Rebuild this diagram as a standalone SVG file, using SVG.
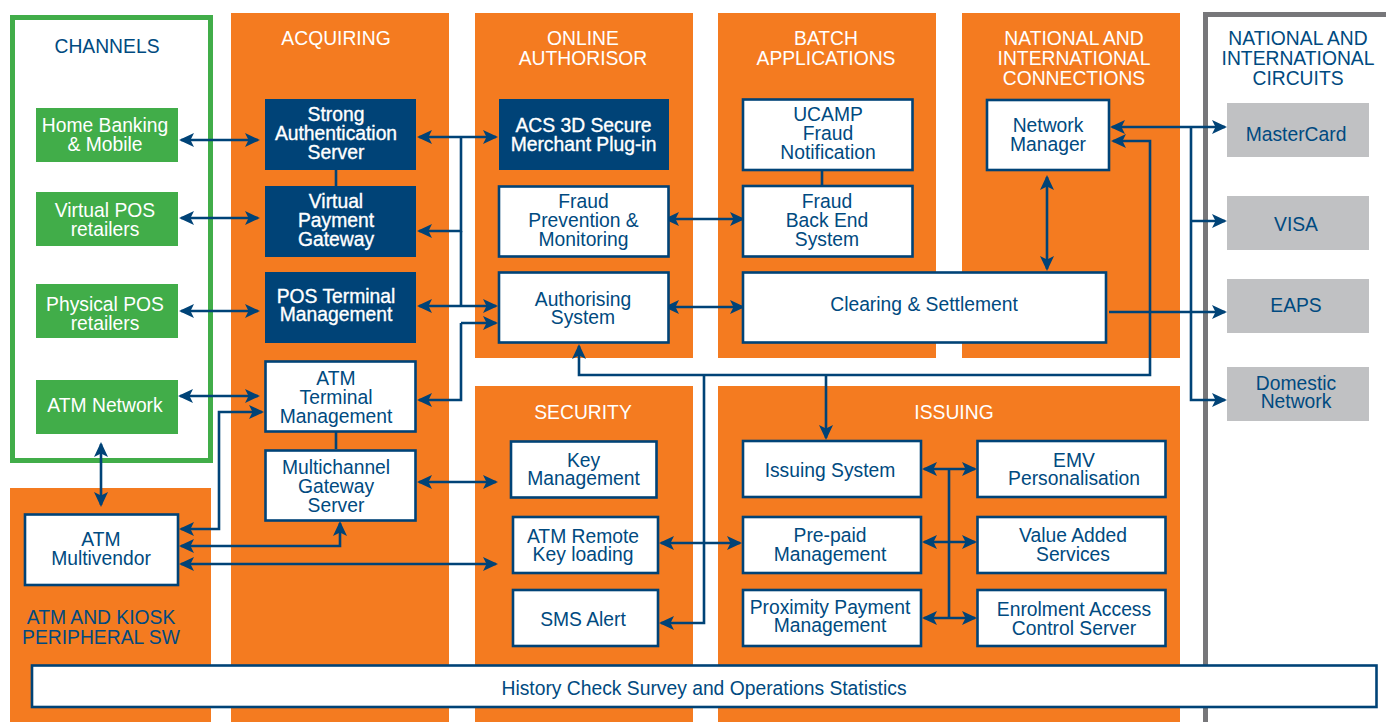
<svg xmlns="http://www.w3.org/2000/svg" width="1386" height="722" viewBox="0 0 1386 722">
<style>
text{font-family:"Liberation Sans",Arial,sans-serif;font-size:19.3px;text-anchor:middle;fill:#004a80}
.pan{fill:#f47b20}
.w{fill:#fff}
.db{fill:#004377}
.dbt{fill:#fff;stroke:#fff;stroke-width:.35px}
.wb{fill:#fff;stroke:#004377;stroke-width:2.6}
.gr{fill:#41ad49}
.gy{fill:#c0c1c3}
.c{fill:none;stroke:#004377;stroke-width:2.6}
.a{marker-end:url(#ah)}
.b{marker-start:url(#ah);marker-end:url(#ah)}
</style>
<defs>
<marker id="ah" markerUnits="userSpaceOnUse" markerWidth="18" markerHeight="16" refX="13" refY="7" orient="auto-start-reverse" overflow="visible"><path d="M15 7L0 0L3.500 7L0 14Z" fill="#004377"/></marker>
</defs>
<g id="panels">
<rect class="pan" x="231" y="13" width="218" height="709"/>
<rect class="pan" x="475" y="13" width="218" height="345"/>
<rect class="pan" x="718" y="13" width="218" height="345"/>
<rect class="pan" x="962" y="13" width="218" height="345"/>
<rect class="pan" x="475" y="386" width="218" height="336"/>
<rect class="pan" x="718" y="386" width="462" height="336"/>
<rect class="pan" x="10" y="488" width="201" height="234"/>
<rect x="12.500" y="17.500" width="198" height="443" fill="none" stroke="#41ad49" stroke-width="5"/>
<path d="M1205.500 722V14.500H1386" fill="none" stroke="#77777a" stroke-width="5"/>
<text x="107" y="53">CHANNELS</text>
<text class="w" x="336" y="45">ACQUIRING</text>
<text class="w" x="583" y="45">ONLINE</text><text class="w" x="583" y="65">AUTHORISOR</text>
<text class="w" x="826" y="45">BATCH</text><text class="w" x="826" y="65">APPLICATIONS</text>
<text class="w" x="1074" y="45">NATIONAL AND</text><text class="w" x="1074" y="65">INTERNATIONAL</text><text class="w" x="1074" y="85">CONNECTIONS</text>
<text x="1298" y="45">NATIONAL AND</text><text x="1298" y="65">INTERNATIONAL</text><text x="1298" y="85">CIRCUITS</text>
<text class="w" x="583" y="419">SECURITY</text>
<text class="w" x="954" y="419">ISSUING</text>
<text x="101" y="624">ATM AND KIOSK</text><text x="101" y="644">PERIPHERAL SW</text>
</g>
<g id="connectors">
<path class="c b" d="M181 140H258"/>
<path class="c b" d="M181 218H258"/>
<path class="c b" d="M181 311H258"/>
<path class="c b" d="M180 396H258"/>
<path class="c b" d="M101 444V505"/>
<path class="c" d="M336 170V186M336 432V449M822 171V185"/>
<path class="c b" d="M181 529H219V412H262"/>
<path class="c b" d="M181 546H340V523"/>
<path class="c b" d="M181 564H496"/>
<path class="c b" d="M419 482H496"/>
<path class="c b" d="M419 137H496"/>
<path class="c a" d="M461 137V231H419"/>
<path class="c b" d="M419 306H496"/>
<path class="c" d="M461 231V306"/>
<path class="c a" d="M461 323V400H419"/>
<path class="c a" d="M461 323H496"/>
<path class="c b" d="M666 219H743"/>
<path class="c b" d="M666 307H743"/>
<path class="c b" d="M579 346V375H1150V141H1113"/>
<path class="c a" d="M704 375V623H661"/>
<path class="c a" d="M826 375V438"/>
<path class="c b" d="M661 543H740"/>
<path class="c b" d="M924 469H975"/>
<path class="c b" d="M924 542H975"/>
<path class="c b" d="M924 618H975"/>
<path class="c" d="M949 469V618"/>
<path class="c b" d="M1112 127H1225"/>
<path class="c a" d="M1191 127V400H1225"/>
<path class="c a" d="M1191 221H1225"/>
<path class="c a" d="M1109 312H1225"/>
<path class="c b" d="M1047 177V269"/>
</g>
<g id="home-banking"><rect class="gr" x="36" y="108" width="142" height="54"/><text class="w" x="105" y="132">Home Banking</text><text class="w" x="105" y="151">&amp; Mobile</text></g>
<g id="virtual-pos"><rect class="gr" x="36" y="192" width="142" height="54"/><text class="w" x="105" y="217">Virtual POS</text><text class="w" x="105" y="236">retailers</text></g>
<g id="physical-pos"><rect class="gr" x="36" y="284" width="142" height="54"/><text class="w" x="105" y="311">Physical POS</text><text class="w" x="105" y="330">retailers</text></g>
<g id="atm-network"><rect class="gr" x="36" y="380" width="142" height="54"/><text class="w" x="105" y="412">ATM Network</text></g>
<g id="strong-auth"><rect class="db" x="265" y="99" width="151" height="71"/><text class="dbt" x="336" y="121">Strong</text><text class="dbt" x="336" y="140">Authentication</text><text class="dbt" x="336" y="159">Server</text></g>
<g id="virtual-gateway"><rect class="db" x="265" y="186" width="151" height="71"/><text class="dbt" x="336" y="208">Virtual</text><text class="dbt" x="336" y="227">Payment</text><text class="dbt" x="336" y="246">Gateway</text></g>
<g id="pos-terminal"><rect class="db" x="265" y="272" width="151" height="71"/><text class="dbt" x="336" y="303">POS Terminal</text><text class="dbt" x="336" y="321">Management</text></g>
<g id="atm-terminal"><rect class="wb" x="265.500" y="361.500" width="150" height="70"/><text x="336" y="385">ATM</text><text x="336" y="404">Terminal</text><text x="336" y="423">Management</text></g>
<g id="multichannel"><rect class="wb" x="265.500" y="450.500" width="150" height="70"/><text x="336" y="474">Multichannel</text><text x="336" y="493">Gateway</text><text x="336" y="512">Server</text></g>
<g id="atm-multivendor"><rect class="wb" x="25" y="514.500" width="153" height="70.500"/><text x="101" y="546">ATM</text><text x="101" y="565">Multivendor</text></g>
<g id="acs"><rect class="db" x="499" y="99" width="170" height="71"/><text class="dbt" x="583.500" y="132">ACS 3D Secure</text><text class="dbt" x="583.500" y="151">Merchant Plug-in</text></g>
<g id="fraud-prevention"><rect class="wb" x="499" y="186.500" width="169.500" height="70"/><text x="583.500" y="208">Fraud</text><text x="583.500" y="227">Prevention &amp;</text><text x="583.500" y="246">Monitoring</text></g>
<g id="authorising"><rect class="wb" x="499" y="272.500" width="169.500" height="70"/><text x="583" y="306">Authorising</text><text x="583" y="324">System</text></g>
<g id="ucamp"><rect class="wb" x="743" y="99.500" width="169.500" height="70.500"/><text x="828" y="121">UCAMP</text><text x="828" y="140">Fraud</text><text x="828" y="159">Notification</text></g>
<g id="fraud-back"><rect class="wb" x="743" y="186" width="169.500" height="70.500"/><text x="827" y="208">Fraud</text><text x="827" y="227">Back End</text><text x="827" y="246">System</text></g>
<g id="clearing"><rect class="wb" x="743" y="272.500" width="363" height="70"/><text x="924" y="311">Clearing &amp; Settlement</text></g>
<g id="network-manager"><rect class="wb" x="987" y="100" width="122" height="70"/><text x="1048" y="132">Network</text><text x="1048" y="151">Manager</text></g>
<g id="mastercard"><rect class="gy" x="1227" y="103" width="142" height="54"/><text x="1296" y="141">MasterCard</text></g>
<g id="visa"><rect class="gy" x="1227" y="196" width="142" height="54"/><text x="1296" y="231">VISA</text></g>
<g id="eaps"><rect class="gy" x="1227" y="279" width="142" height="54"/><text x="1296" y="312">EAPS</text></g>
<g id="domestic"><rect class="gy" x="1227" y="367" width="142" height="54"/><text x="1296" y="390">Domestic</text><text x="1296" y="408">Network</text></g>
<g id="key-management"><rect class="wb" x="511" y="441.500" width="145.500" height="56"/><text x="583.500" y="467">Key</text><text x="583.500" y="485">Management</text></g>
<g id="atm-remote"><rect class="wb" x="513" y="517" width="145" height="56"/><text x="583" y="543">ATM Remote</text><text x="583" y="561">Key loading</text></g>
<g id="sms-alert"><rect class="wb" x="513" y="590" width="145" height="56"/><text x="583" y="626">SMS Alert</text></g>
<g id="issuing-system"><rect class="wb" x="743" y="441" width="178" height="56"/><text x="830" y="477">Issuing System</text></g>
<g id="prepaid"><rect class="wb" x="743" y="517" width="178" height="56"/><text x="830" y="542">Pre-paid</text><text x="830" y="561">Management</text></g>
<g id="proximity"><rect class="wb" x="743" y="590" width="178" height="56"/><text x="830" y="614">Proximity Payment</text><text x="830" y="632">Management</text></g>
<g id="emv"><rect class="wb" x="977.500" y="441" width="188" height="56"/><text x="1074" y="467">EMV</text><text x="1074" y="485">Personalisation</text></g>
<g id="value-added"><rect class="wb" x="977.500" y="517" width="188" height="56"/><text x="1073" y="542">Value Added</text><text x="1073" y="561">Services</text></g>
<g id="enrolment"><rect class="wb" x="977.500" y="590" width="188" height="56"/><text x="1074" y="616">Enrolment Access</text><text x="1074" y="635">Control Server</text></g>
<g id="history"><rect class="wb" x="32" y="665.500" width="1344.500" height="41.500"/><text x="704" y="695">History Check Survey and Operations Statistics</text></g>
</svg>
